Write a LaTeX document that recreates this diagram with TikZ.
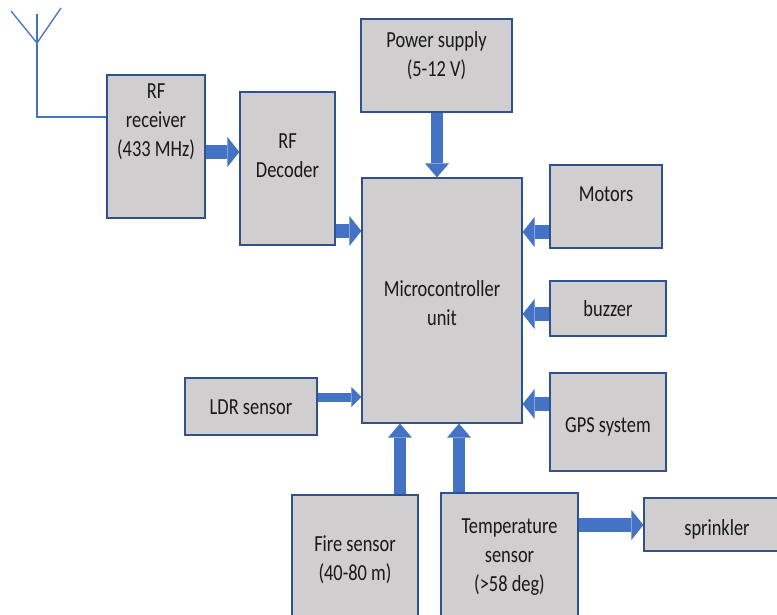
\documentclass[tikz,border=0pt]{standalone}
\usepackage{fontspec}
\setmainfont{Carlito}[FakeStretch=0.8]
\usetikzlibrary{arrows.meta}

\definecolor{boxfill}{HTML}{D0CECE}
\definecolor{boxedge}{HTML}{2F528F}
\definecolor{flowblue}{HTML}{4472C4}

\begin{document}
\begin{tikzpicture}[
    x=1pt, y=-1pt,
    box/.style={draw=boxedge, fill=boxfill, line width=1.2pt, inner sep=0pt},
    txt/.style={font=\fontsize{23}{29}\selectfont, align=center, inner sep=0pt, text=black!90},
    flow/.style={draw=flowblue, line width=14pt, -{Triangle[length=12pt, width=30pt, line width=0pt]}},
    flowthin/.style={draw=flowblue, line width=9pt, -{Triangle[length=10pt, width=20pt, line width=0pt]}},
    flowup/.style={draw=flowblue, line width=12pt, -{Triangle[length=14pt, width=24pt, line width=0pt]}},
    wire/.style={draw=flowblue, line width=1.3pt}
  ]
  \useasboundingbox (0,0) rectangle (777,615);
  \clip (0,0) rectangle (777,615);

  % --- receiver chain ---
  \node[box, minimum width=98, minimum height=143] (rfrx) at (156,146.5) {};
  \node[txt] (rfrx-t) at (156,121.6) {RF\\receiver\\(433 MHz)};
  \node[box, minimum width=95, minimum height=153] (rfdec) at (287.5,168.5) {};
  \node[txt] (rfdec-t) at (287.5,155.6) {RF\\Decoder};

  % antenna
  \coordinate (ant) at (37,43);
  \draw[wire] (rfrx.west |- 0,117) -| (37,14);
  \draw[wire] (11,11) -- (ant) -- (61,8);

  % --- supply and controller ---
  \node[box, minimum width=151, minimum height=93] (power) at (436.5,65.5) {};
  \node[txt] (power-t) at (436.5,55.9) {Power supply\\(5-12 V)};
  \node[box, minimum width=160, minimum height=245] (mcu) at (442,300.5) {};
  \node[txt] (mcu-t) at (442,303.4) {Microcontroller\\unit};

  % --- right column ---
  \node[box, minimum width=112, minimum height=83] (motors) at (606,206.5) {};
  \node[txt] (motors-t) at (606,194.6) {Motors};
  \node[box, minimum width=116, minimum height=55] (buzzer) at (608,308.5) {};
  \node[txt] (buzzer-t) at (608,308.9) {buzzer};
  \node[box, minimum width=116, minimum height=98] (gps) at (608,422) {};
  \node[txt] (gps-t) at (608,427) {GPS system};

  % --- sensors ---
  \node[box, minimum width=132, minimum height=57] (ldr) at (251,406.5) {};
  \node[txt] (ldr-t) at (251,407.6) {LDR sensor};
  \node[box, minimum width=126, minimum height=122] (fire) at (355,556) {};
  \node[txt] (fire-t) at (355,559.6) {Fire sensor\\(40-80 m)};
  \node[box, minimum width=137, minimum height=124] (temp) at (509.5,555) {};
  \node[txt] (temp-t) at (509.5,557.1) {Temperature\\sensor\\(>58 deg)};
  \node[box, minimum width=146, minimum height=53] (sprinkler) at (717,524.5) {};
  \node[txt] (sprinkler-t) at (717,529.3) {sprinkler};

  % --- block arrows ---
  \draw[flow] (rfrx.east |- 0,152) -- (rfdec.west |- 0,152);
  \draw[flow] (rfdec.east |- 0,231) -- (mcu.west |- 0,231);
  \draw[flowup] (power.south -| 437,0) -- (mcu.north -| 437,0);
  \draw[flow] (motors.west |- 0,232) -- (mcu.east |- 0,232);
  \draw[flow] (buzzer.west |- 0,314) -- (mcu.east |- 0,314);
  \draw[flow] (gps.west |- 0,404) -- (mcu.east |- 0,404);
  \draw[flowthin] (ldr.east |- 0,397) -- (mcu.west |- 0,397);
  \draw[flowup] (fire.north -| 400,0) -- (mcu.south -| 400,0);
  \draw[flowup] (temp.north -| 459,0) -- (mcu.south -| 459,0);
  \draw[flow] (temp.east |- 0,525) -- (sprinkler.west |- 0,525);

\end{tikzpicture}
\end{document}
